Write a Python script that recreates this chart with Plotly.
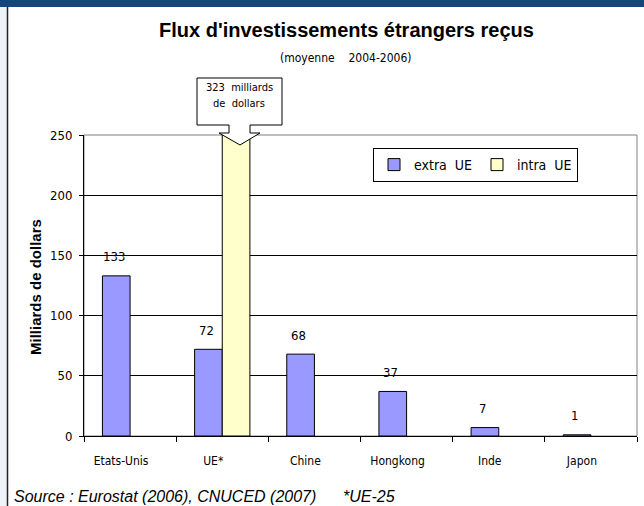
import plotly.graph_objects as go

# Data
categories = ["Etats-Unis", "UE*", "Chine", "Hongkong", "Inde", "Japon"]
extra_ue = [133, 72, 68, 37, 7, 1]
intra_ue = [None, 323, None, None, None, None]
y_ticks = [0, 50, 100, 150, 200, 250]

W, H = 644, 506
L, R, T, B = 84, 7, 135, 70
PW, PH = W - L - R, H - T - B

NARROW = "DejaVu Sans Condensed, Liberation Sans Narrow, Arial Narrow, sans-serif"
ARIAL = "Liberation Sans, Arial"


def px_x(px):
    return (px - L) / PW


def px_y(py):
    return (H - B - py) / PH


def cat_x(px):
    # pixel -> category axis coordinate
    return (px - L) / (PW / len(categories)) - 0.5


def note(x, y, text, font, xref="paper", xanchor="center", **kw):
    return dict(x=x, y=y, xref=xref, yref="paper", text=text, showarrow=False,
                xanchor=xanchor, yanchor="middle", font=font, **kw)


fig = go.Figure()
fig.add_trace(go.Bar(
    x=categories, y=extra_ue, name="extra\u00a0\u00a0UE",
    marker=dict(color="#9999ff", line=dict(color="black", width=1)),
))
fig.add_trace(go.Bar(
    x=categories, y=intra_ue, name="intra\u00a0\u00a0UE",
    marker=dict(color="#ffffcc", line=dict(color="black", width=1)),
))

annotations = []
# value labels for extra UE bars
for c, v in zip(categories, extra_ue):
    annotations.append(dict(
        x=c, y=v, xref="x", yref="y", text=str(v), showarrow=False,
        xanchor="center", yanchor="middle",
        xshift=-16, yshift=19, font=dict(family=NARROW, size=13, color="black"),
    ))

annotations += [
    note(px_x(346), px_y(30), "<b>Flux d'investissements étrangers reçus</b>",
         dict(family=ARIAL, size=20, color="black")),
    note(px_x(345), px_y(58), "(moyenne\u00a0\u00a0\u00a0\u00a02004-2006)",
         dict(family=NARROW, size=12, color="black")),
    note(px_x(35), px_y(287), "<b>Milliards de dollars</b>",
         dict(family=ARIAL, size=15, color="black"), textangle=-90),
    note(px_x(12), px_y(496),
         "<i>Source : Eurostat (2006), CNUCED (2007)\u00a0\u00a0\u00a0\u00a0\u00a0\u00a0*UE-25</i>",
         dict(family=ARIAL, size=16, color="black"), xanchor="left"),
    note(cat_x(239), px_y(87), "323\u00a0\u00a0milliards",
         dict(family=NARROW, size=11, color="black"), xref="x"),
    note(cat_x(239), px_y(103), "de\u00a0\u00a0dollars",
         dict(family=NARROW, size=11, color="black"), xref="x"),
]

# callout box with arrow pointing to the truncated intra UE bar
pts = [(197, 78), (282, 78), (282, 125), (250, 125), (250, 133), (260, 133),
       (240, 145), (219, 133), (229, 133), (229, 125), (197, 125)]
path = "M " + " L ".join(f"{cat_x(a):.4f},{px_y(b):.4f}" for a, b in pts) + " Z"

shapes = [
    dict(type="path", path=path, xref="x", yref="paper",
         fillcolor="white", line=dict(color="black", width=1), layer="above"),
    # plot frame (right/top)
    dict(type="rect", xref="paper", yref="paper", x0=0, x1=1, y0=0, y1=1,
         line=dict(color="#808080", width=1), layer="below"),
    # slide decoration: top band and left border
    dict(type="rect", xref="paper", yref="paper", x0=px_x(0), x1=px_x(W),
         y0=px_y(0), y1=px_y(7), fillcolor="#14467c", line=dict(width=0)),
    dict(type="rect", xref="paper", yref="paper", x0=px_x(0), x1=px_x(7),
         y0=px_y(7), y1=px_y(H), fillcolor="#eef3f8", line=dict(width=0)),
    dict(type="line", xref="paper", yref="paper", x0=px_x(7.5), x1=px_x(7.5),
         y0=px_y(7), y1=px_y(H), line=dict(color="#222222", width=1.5)),
]

fig.update_layout(
    width=W, height=H,
    margin=dict(l=L, r=R, t=T, b=B, pad=0),
    paper_bgcolor="white", plot_bgcolor="white",
    barmode="group", bargap=0.4, bargroupgap=0,
    showlegend=True,
    legend=dict(x=px_x(373), y=px_y(148), xanchor="left", yanchor="top",
                orientation="h", bgcolor="white", bordercolor="black", borderwidth=1,
                font=dict(family=NARROW, size=14, color="black"),
                itemwidth=30, traceorder="normal", tracegroupgap=0),
    annotations=annotations,
    shapes=shapes,
    font=dict(family=NARROW, color="black"),
)
fig.update_xaxes(
    type="category", tickson="boundaries", ticks="outside", ticklen=5,
    tickcolor="black", showline=True, linecolor="black", linewidth=1,
    showgrid=False, tickfont=dict(family=NARROW, size=12, color="black"),
    ticklabelstandoff=14, ticklabelshift=-9, range=[-0.5, 5.5],
)
fig.update_yaxes(
    range=[0, 250], tickvals=y_ticks, ticks="outside", ticklen=4, tickcolor="black",
    showline=True, linecolor="black", linewidth=1,
    showgrid=True, gridcolor="black", gridwidth=1, zeroline=False,
    tickfont=dict(family=NARROW, size=13, color="black"), ticklabelstandoff=4,
)

# the page body has a default margin; remove it so the figure sits at (0, 0)
fig.write_html("out.html", config={"displayModeBar": False},
               post_script="document.body.style.margin='0';")
